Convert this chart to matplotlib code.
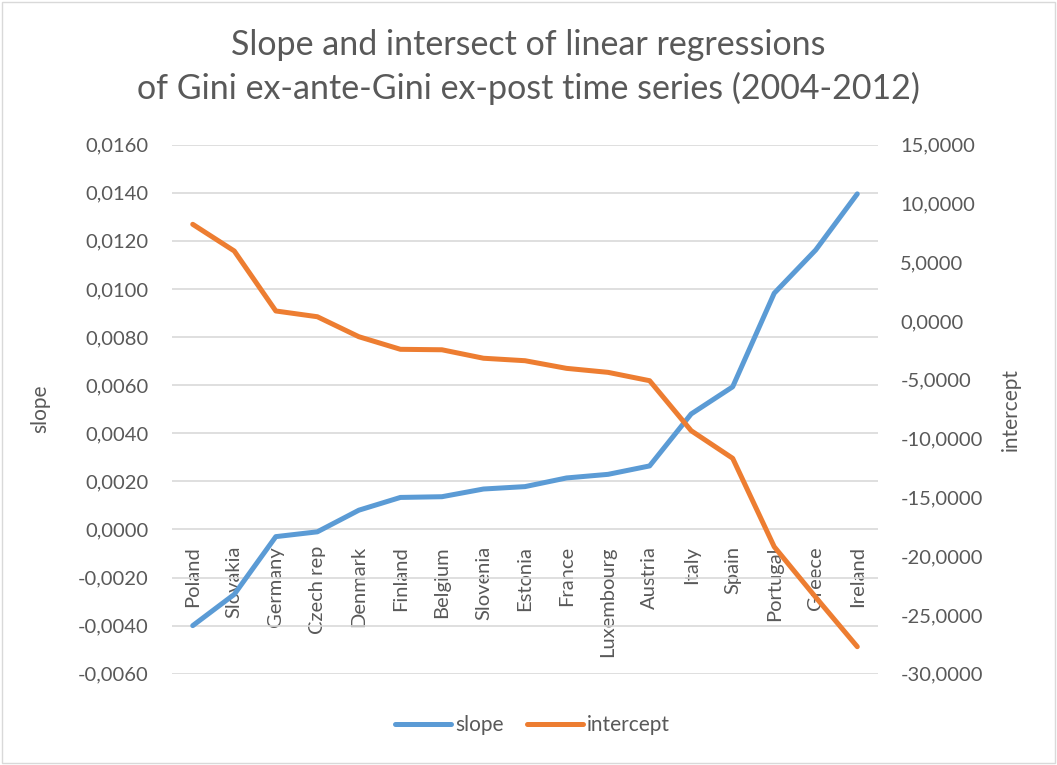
import matplotlib
matplotlib.use("Agg")
import matplotlib.pyplot as plt
from matplotlib.ticker import FuncFormatter, MultipleLocator
from matplotlib.patches import Rectangle

countries = ["Poland", "Slovakia", "Germany", "Czech rep", "Denmark", "Finland",
             "Belgium", "Slovenia", "Estonia", "France", "Luxembourg", "Austria",
             "Italy", "Spain", "Portugal", "Greece", "Ireland"]
slope = [-0.0040, -0.0027, -0.0003, -0.0001, 0.0008, 0.00133, 0.00136, 0.00168,
         0.00178, 0.00214, 0.00229, 0.00264, 0.0048, 0.00593, 0.00982, 0.01162,
         0.01395]
intercept = [8.22, 5.95, 0.85, 0.36, -1.34, -2.41, -2.45, -3.17, -3.38, -4.03,
             -4.37, -5.08, -9.33, -11.68, -19.2, -23.5, -27.7]

BLUE = "#5B9BD5"; ORANGE = "#ED7D31"; TXT = "#595959"; GRID = "#D9D9D9"
plt.rcParams["font.family"] = ["Lato", "DejaVu Sans"]

fig = plt.figure(figsize=(10.57, 7.65), dpi=100, facecolor="white")
ax = fig.add_axes([0.1627, 0.1193, 0.668, 0.6917])
ax2 = ax.twinx()

x = list(range(len(countries)))
l1, = ax.plot(x, slope, color=BLUE, lw=3.6, solid_capstyle="round",
              solid_joinstyle="round", label="slope", zorder=3)
l2, = ax2.plot(x, intercept, color=ORANGE, lw=3.6, solid_capstyle="round",
               solid_joinstyle="round", label="intercept", zorder=3)

ax.set_xlim(-0.5, len(countries) - 0.5)
ax.set_ylim(-0.006, 0.016)
ax2.set_ylim(-30, 15)
ax.yaxis.set_major_locator(MultipleLocator(0.002))
ax2.yaxis.set_major_locator(MultipleLocator(5))
ax.yaxis.set_major_formatter(FuncFormatter(lambda v, p: f"{v:.4f}".replace(".", ",").replace("-0,0000", "0,0000")))
ax2.yaxis.set_major_formatter(FuncFormatter(lambda v, p: f"{v:.4f}".replace(".", ",")))
ax.grid(axis="y", color=GRID, lw=1.2, zorder=0)
ax.set_axisbelow(True)

# category labels hang below the zero line
ax.spines["bottom"].set_position(("data", 0))
for a in (ax, ax2):
    for s in a.spines.values():
        s.set_visible(False)
ax.set_xticks(x)
ax.set_xticklabels(countries, rotation=90)
ax.tick_params(axis="x", length=0, pad=12, labelsize=14.5, labelcolor=TXT)
ax.tick_params(axis="y", length=0, pad=17, labelsize=14.5, labelcolor=TXT)
ax2.tick_params(axis="y", length=0, pad=16, labelsize=14.5, labelcolor=TXT)

ax.set_ylabel("slope", fontsize=15, color=TXT, labelpad=20)
ax2.set_ylabel("intercept", fontsize=15, color=TXT, labelpad=13)

fig.suptitle("Slope and intersect of linear regressions\n"
             "of Gini ex-ante-Gini ex-post time series (2004-2012)",
             fontsize=24.5, color=TXT, y=0.962, linespacing=1.4)

fig.legend(handles=[l1, l2], loc="center", bbox_to_anchor=(0.504, 0.052),
           ncol=2, frameon=False, fontsize=15, handlelength=2.7,
           handletextpad=0.2, columnspacing=1.1, labelcolor=TXT)

fig.patches.append(Rectangle((0.002, 0.002), 0.996, 0.996, transform=fig.transFigure,
                             fill=False, ec="#D9D9D9", lw=1.0))

fig.savefig("out.png", dpi=100, facecolor="white")
